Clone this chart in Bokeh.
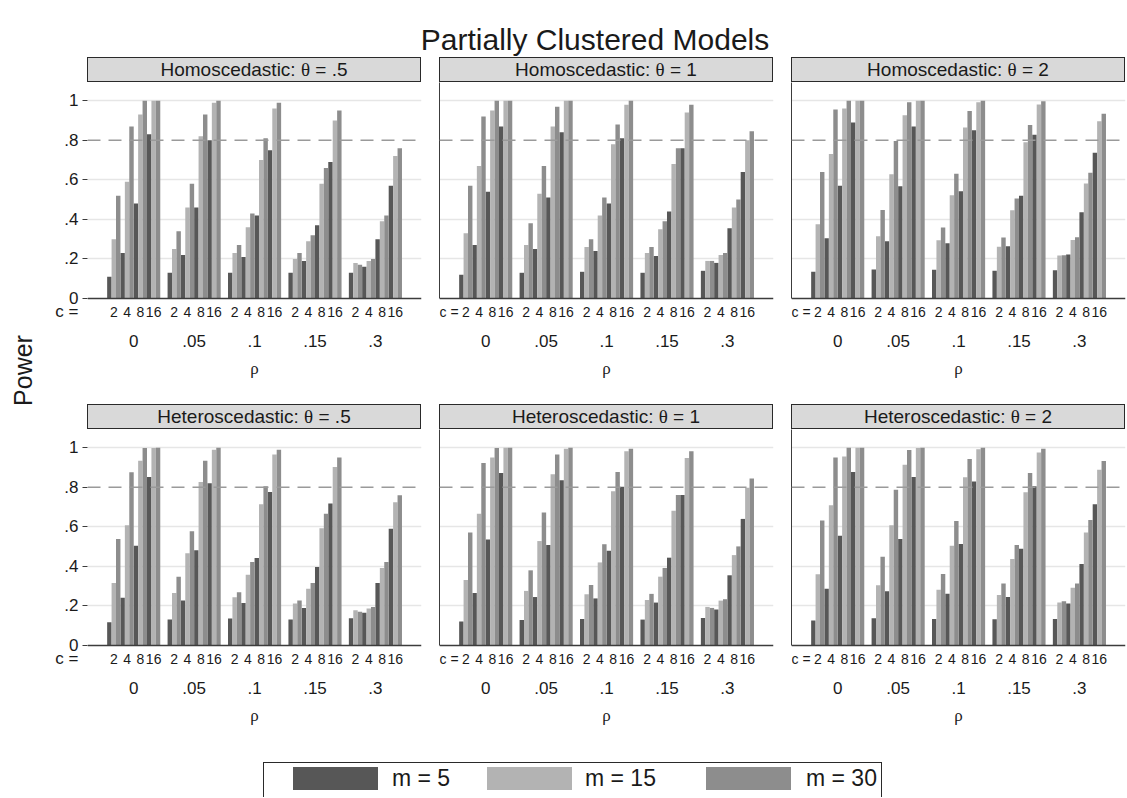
import math
from bokeh.plotting import figure
from bokeh.models import Range1d, FixedTicker, LinearAxis, Span, Div, Grid
from bokeh.layouts import column, row
from bokeh.embed import file_html
from bokeh.resources import INLINE
from bokeh.core.properties import value

# ---------------- data ----------------
rho_labels = ["0", ".05", ".1", ".15", ".3"]
c_labels = ["2", "4", "8", "16"]
c_prefix = "c ="
m_labels = ["m = 5", "m = 15", "m = 30"]
y_ticks = [0, 0.2, 0.4, 0.6, 0.8, 1.0]
y_tick_labels = ["0", ".2", ".4", ".6", ".8", "1"]
panel_titles = [
    ("Homoscedastic:", ".5"), ("Homoscedastic:", "1"), ("Homoscedastic:", "2"),
    ("Heteroscedastic:", ".5"), ("Heteroscedastic:", "1"), ("Heteroscedastic:", "2"),
]

# each list: 5 rho groups x 4 cluster sizes c (rho-major order)
homo_05_m5 = [.11, .23, .48, .83, .13, .22, .46, .80, .13, .21, .42, .75, .13, .19, .37, .69, .13, .16, .30, .57]
homo_05_m15 = [.30, .59, .93, 1.0, .25, .46, .82, .99, .23, .36, .70, .96, .20, .29, .58, .90, .18, .19, .39, .72]
homo_05_m30 = [.52, .87, 1.0, 1.0, .34, .58, .93, 1.0, .27, .43, .81, .99, .23, .32, .66, .95, .17, .20, .42, .76]

homo_1_m5 = [.12, .27, .54, .87, .13, .25, .51, .84, .135, .24, .48, .81, .13, .215, .44, .76, .14, .18, .355, .64]
homo_1_m15 = [.33, .67, .95, 1.0, .27, .53, .87, 1.0, .26, .42, .78, .98, .23, .35, .68, .94, .19, .22, .46, .80]
homo_1_m30 = [.57, .92, 1.0, 1.0, .38, .67, .97, 1.0, .30, .51, .88, 1.0, .26, .39, .76, .98, .19, .23, .50, .845]

homo_2_m5 = [.135, .305, .57, .89, .146, .29, .567, .87, .145, .279, .542, .85, .14, .264, .519, .828, .143, .222, .436, .737]
homo_2_m15 = [.375, .73, .96, 1.0, .315, .628, .926, 1.0, .295, .522, .865, .992, .261, .446, .79, .981, .217, .296, .581, .896]
homo_2_m30 = [.64, .955, 1.0, 1.0, .448, .796, .992, 1.0, .359, .631, .948, 1.0, .308, .505, .877, .997, .219, .31, .636, .934]

hetero_05_m5 = [.118, .242, .504, .852, .131, .227, .482, .82, .136, .215, .442, .776, .131, .19, .397, .718, .138, .165, .316, .59]
hetero_05_m15 = [.316, .608, .934, .998, .266, .466, .827, .99, .244, .358, .714, .966, .212, .287, .593, .903, .178, .187, .392, .724]
hetero_05_m30 = [.538, .876, .998, 1.0, .348, .578, .934, 1.0, .269, .422, .805, .99, .227, .316, .666, .951, .17, .195, .422, .76]

hetero_1_m5 = [.121, .266, .536, .872, .129, .245, .508, .835, .134, .238, .479, .803, .131, .217, .444, .761, .139, .182, .355, .64]
hetero_1_m15 = [.331, .666, .951, 1.0, .276, .528, .866, .995, .259, .42, .78, .982, .23, .348, .681, .948, .195, .227, .457, .797]
hetero_1_m30 = [.571, .923, .998, 1.0, .38, .672, .966, 1.0, .306, .512, .877, .995, .261, .392, .761, .982, .19, .234, .501, .844]

hetero_2_m5 = [.126, .287, .555, .877, .138, .274, .539, .852, .134, .262, .513, .829, .133, .245, .489, .805, .134, .212, .412, .714]
hetero_2_m15 = [.36, .709, .956, 1.0, .304, .608, .914, .998, .282, .504, .85, .992, .255, .437, .775, .976, .218, .292, .571, .889]
hetero_2_m30 = [.632, .95, 1.0, 1.0, .449, .788, .988, 1.0, .361, .629, .943, 1.0, .314, .508, .872, .995, .224, .314, .634, .933]

panel_data = [
    (homo_05_m5, homo_05_m15, homo_05_m30),
    (homo_1_m5, homo_1_m15, homo_1_m30),
    (homo_2_m5, homo_2_m15, homo_2_m30),
    (hetero_05_m5, hetero_05_m15, hetero_05_m30),
    (hetero_1_m5, hetero_1_m15, hetero_1_m30),
    (hetero_2_m5, hetero_2_m15, hetero_2_m30),
]

# ---------------- style / layout ----------------
bar_colors = ["#575757", "#b3b3b3", "#8d8d8d"]
FONT = "Liberation Sans"
SERIF = "Liberation Serif"
TXT = "#1a1a1a"
AXC = "#3c3c3c"
TITLE_H = 57
FRAME_W, FRAME_H = 334, 216
HEADER_H = 25
BOTTOM = 106        # space below the x axis line
C_ROW = 26          # part of it kept inside the bar panel (cluster-size labels)
POWER_W = 48
LEFTS = [39, 16, 16]
RIGHTS = [2, 2, 1]
GROUP_STEP = 13.65
X0, X1 = -4.94, 70.51
Y_TOP = 1.092
PPU = FRAME_W / (X1 - X0)   # px per x unit
PPY = FRAME_H / Y_TOP       # px per y unit
Y_BOT = -C_ROW / PPY
Y_C = -13 / PPY             # vertical position of the cluster-size labels

n_m = len(m_labels)
n_c = len(c_labels)
cluster_centers = [g * GROUP_STEP + n_m * k + 1 for g in range(len(rho_labels)) for k in range(n_c)]
cluster_text = [c_labels[j % n_c] for j in range(len(cluster_centers))]
group_centers = [g * GROUP_STEP + (n_m * n_c - 1) / 2 for g in range(len(rho_labels))]


def header_div(title, theta, left, right):
    w = left + FRAME_W + right
    html = (
        f'<div style="margin-left:{left}px;width:{FRAME_W}px;height:{HEADER_H}px;box-sizing:border-box;'
        f'background:#d9d9d9;border:1px solid #2a2a2a;font-family:\'{FONT}\',Arial,sans-serif;font-size:19px;'
        f'line-height:{HEADER_H - 2}px;text-align:center;color:{TXT};white-space:nowrap;overflow:hidden;">'
        f'{title} <span style="font-family:\'{SERIF}\',serif;">θ</span> = {theta}</div>'
    )
    return Div(text=html, width=w, height=HEADER_H, margin=(0, 0, 0, 0))


def make_panel(idx, col):
    left, right = LEFTS[col], RIGHTS[col]
    p = figure(frame_width=FRAME_W, frame_height=FRAME_H + C_ROW, title=None,
               x_range=Range1d(X0, X1), y_range=Range1d(Y_BOT, Y_TOP),
               output_backend="svg", toolbar_location=None,
               x_axis_location=None, y_axis_location=None,
               min_border_left=left, min_border_right=right,
               min_border_top=0, min_border_bottom=0, frame_align=False,
               outline_line_color=None, background_fill_color="white",
               border_fill_color="white")
    for g in p.grid:
        g.visible = False
    p.add_layout(Grid(dimension=1, ticker=FixedTicker(ticks=[0.2, 0.4, 0.6, 1.0]), bounds=(X0, X1),
                      grid_line_color="#e6e6e6", grid_line_width=1.5))
    p.add_layout(Span(location=0.8, dimension="width", line_color="#9a9a9a",
                      line_dash="13 8", line_width=1.5))

    series = panel_data[idx]
    for i in range(n_m):
        xs = [(n // n_c) * GROUP_STEP + n_m * (n % n_c) + i for n in range(len(series[i]))]
        p.vbar(x=xs, top=series[i], bottom=0, width=1.0,
               fill_color=bar_colors[i], line_color=None)

    # x axis line and right border of the plot region
    p.add_layout(Span(location=0, dimension="width", line_color=AXC, line_width=1.5))
    p.add_layout(Grid(dimension=0, ticker=FixedTicker(ticks=[X1]), bounds=(0, Y_TOP),
                      grid_line_color="#8c8c8c", grid_line_width=2))

    if col == 0:
        # y axis; its lowest tick carries the "c =" prefix of the cluster-size row
        p.add_layout(Grid(dimension=0, ticker=FixedTicker(ticks=[X0]), bounds=(0, Y_TOP),
                          grid_line_color=AXC, grid_line_width=2))
        yax = LinearAxis(ticker=FixedTicker(ticks=[Y_C] + y_ticks, minor_ticks=y_ticks),
                         bounds=(Y_C, Y_TOP),
                         major_label_overrides=dict([(Y_C, c_prefix)] + list(zip(y_ticks, y_tick_labels))),
                         axis_line_color=None, major_tick_line_color=None,
                         major_tick_out=5, major_tick_in=0,
                         minor_tick_out=5, minor_tick_in=0, minor_tick_line_color=AXC,
                         major_label_text_font=FONT, major_label_text_font_size="17px",
                         major_label_text_color=TXT, major_label_standoff=4)
    else:
        yax = LinearAxis(ticker=FixedTicker(ticks=[]), bounds=(0, Y_TOP), axis_line_color=AXC,
                         minor_tick_line_color=None, major_tick_line_color=None)
        p.text(x=[X0], y=[Y_C], text=[c_prefix], text_align="left", text_baseline="middle",
               text_font=value(FONT), text_font_size="14px", text_color=TXT)
    p.add_layout(yax, "left")

    p.text(x=cluster_centers, y=[Y_C] * len(cluster_centers), text=cluster_text,
           text_align="center", text_baseline="middle", text_font=value(FONT),
           text_font_size="14px", text_color=TXT)
    return p


def make_labels(col):
    left, right = LEFTS[col], RIGHTS[col]
    w = left + FRAME_W + right
    q = figure(frame_width=w, frame_height=BOTTOM - C_ROW, title=None,
               x_range=Range1d(X0 - left / PPU, X1 + right / PPU), y_range=Range1d(-BOTTOM, -C_ROW),
               output_backend="svg", toolbar_location=None, frame_align=False,
               x_axis_location=None, y_axis_location=None, min_border=0,
               outline_line_color=None, background_fill_color="white", border_fill_color="white")
    for g in q.grid:
        g.visible = False
    q.text(x=group_centers, y=[-42] * len(group_centers), text=rho_labels,
           text_align="center", text_baseline="middle", text_font=value(FONT),
           text_font_size="17px", text_color=TXT)
    q.text(x=[(X0 + X1) / 2], y=[-70], text=["ρ"],
           text_align="center", text_baseline="middle", text_font=value(SERIF),
           text_font_size="17px", text_color=TXT)
    return q


rows = []
for r in range(2):
    cols = []
    for c in range(3):
        idx = r * 3 + c
        t, th = panel_titles[idx]
        cols.append(column(header_div(t, th, LEFTS[c], RIGHTS[c]), make_panel(idx, c),
                           make_labels(c), spacing=0))
    rows.append(row(*cols, spacing=0))
grid = column(*rows, spacing=0)

rows_h = 2 * (HEADER_H + FRAME_H + BOTTOM)
power = figure(frame_width=POWER_W, frame_height=rows_h, x_range=Range1d(0, POWER_W),
               y_range=Range1d(0, rows_h), output_backend="svg", toolbar_location=None,
               x_axis_location=None, y_axis_location=None, min_border=0, frame_align=False,
               outline_line_color=None, title=None)
for g in power.grid:
    g.visible = False
power.text(x=[22], y=[rows_h - (370 - TITLE_H)], text=["Power"], angle=math.pi / 2,
           text_align="center", text_baseline="middle", text_font=value(FONT),
           text_font_size="25px", text_color=TXT)

PAGE_W = POWER_W + sum(LEFTS) + sum(RIGHTS) + 3 * FRAME_W
title_div = Div(text=(
    f'<div style="position:relative;width:{PAGE_W}px;height:{TITLE_H}px;">'
    f'<div style="position:absolute;left:595px;top:23px;transform:translateX(-50%);white-space:nowrap;'
    f'font-family:\'{FONT}\',Arial,sans-serif;font-size:30px;line-height:34px;color:{TXT};">'
    f'Partially Clustered Models</div></div>'), width=PAGE_W, height=TITLE_H, margin=(0, 0, 0, 0))

LEG_H = 46
sw_left = [293, 487, 706]
tx_left = [392, 585, 806]
leg_parts = [f'<div style="position:relative;width:{PAGE_W}px;height:{LEG_H}px;overflow:hidden;">',
             f'<div style="position:absolute;left:263px;top:11px;width:619px;height:{LEG_H - 11}px;'
             f'box-sizing:border-box;border:1px solid #2a2a2a;border-bottom:none;"></div>']
for i in range(n_m):
    leg_parts.append(f'<div style="position:absolute;left:{sw_left[i]}px;top:16px;width:85px;height:23px;'
                     f'background:{bar_colors[i]};"></div>')
    leg_parts.append(f'<div style="position:absolute;left:{tx_left[i]}px;top:16px;line-height:23px;'
                     f'font-family:\'{FONT}\',Arial,sans-serif;font-size:23px;color:{TXT};white-space:nowrap;">'
                     f'{m_labels[i]}</div>')
leg_parts.append('</div>')
legend_div = Div(text="".join(leg_parts), width=PAGE_W, height=LEG_H, margin=(0, 0, 0, 0))

page = column(title_div, row(power, grid, spacing=0), legend_div, spacing=0)

open("out.html", "w").write(file_html(page, INLINE))
